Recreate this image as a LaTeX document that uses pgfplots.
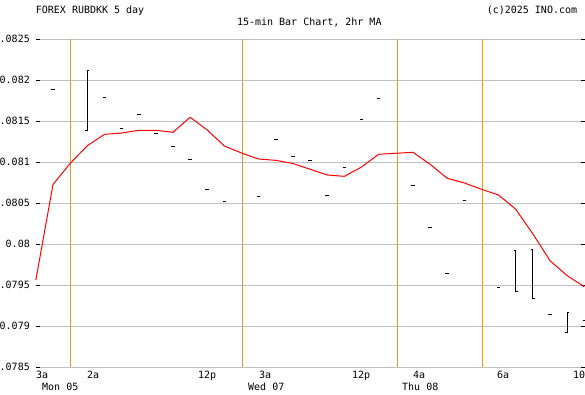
\documentclass[border=0pt]{standalone}
\usepackage{pgfplots}
\usepackage{pgfplotstable}
\pgfplotsset{compat=1.18}
\usepackage{fontspec}
\setmainfont{DejaVu Sans Mono}
\setmonofont{DejaVu Sans Mono}
\definecolor{sepA}{RGB}{218,160,32}
\definecolor{sepB}{RGB}{240,160,0}
\definecolor{gridc}{RGB}{192,192,192}
\pgfdeclareplotmark{openl}{\pgfpathmoveto{\pgfpoint{-1.8pt}{0pt}}\pgfpathlineto{\pgfpoint{0.5pt}{0pt}}\pgfusepathqstroke}
\pgfdeclareplotmark{closer}{\pgfpathmoveto{\pgfpoint{-0.5pt}{0pt}}\pgfpathlineto{\pgfpoint{1.8pt}{0pt}}\pgfusepathqstroke}

\pgfplotstableread{
k o h l c
1 0.081890 0.081890 0.081890 0.081890
3 0.081382 0.082122 0.081382 0.082122
4 0.081793 0.081793 0.081793 0.081793
5 0.081410 0.081410 0.081410 0.081410
6 0.081589 0.081589 0.081589 0.081589
7 0.081354 0.081354 0.081354 0.081354
8 0.081187 0.081187 0.081187 0.081187
9 0.081037 0.081037 0.081037 0.081037
10 0.080671 0.080671 0.080671 0.080671
11 0.080516 0.080516 0.080516 0.080516
13 0.080580 0.080580 0.080580 0.080580
14 0.081280 0.081280 0.081280 0.081280
15 0.081068 0.081068 0.081068 0.081068
16 0.081024 0.081024 0.081024 0.081024
17 0.080601 0.080601 0.080601 0.080601
18 0.080939 0.080939 0.080939 0.080939
19 0.081528 0.081528 0.081528 0.081528
20 0.081780 0.081780 0.081780 0.081780
22 0.080723 0.080723 0.080723 0.080723
23 0.080199 0.080199 0.080199 0.080199
24 0.079646 0.079646 0.079646 0.079646
25 0.080540 0.080540 0.080540 0.080540
27 0.079471 0.079471 0.079471 0.079471
28 0.079922 0.079922 0.079430 0.079430
29 0.079939 0.079939 0.079341 0.079341
30 0.079150 0.079150 0.079150 0.079150
31 0.078927 0.079166 0.078927 0.079166
32 0.079065 0.079065 0.079065 0.079065
}\bars

\pgfplotstableread{
k ma
0 0.079565
1 0.080729
2 0.080987
3 0.081202
4 0.081341
5 0.081357
6 0.081390
7 0.081390
8 0.081366
9 0.081549
10 0.081394
11 0.081199
12 0.081113
13 0.081040
14 0.081024
15 0.080985
16 0.080915
17 0.080845
18 0.080829
19 0.080943
20 0.081098
21 0.081110
22 0.081122
23 0.080976
24 0.080805
25 0.080748
26 0.080671
27 0.080601
28 0.080427
29 0.080126
30 0.079800
31 0.079617
32 0.079483
}\madata

\begin{document}
\begin{tikzpicture}[x=1pt,y=1pt,font=\fontsize{10}{12}\selectfont]
\begin{axis}[
  at={(40pt,-367.3pt)}, anchor=south west,
  scale only axis, width=540.7pt, height=328pt,
  xmin=0.2415, xmax=31.788, ymin=0.0785, ymax=0.0825,
  xtick=\empty,
  scaled y ticks=false,
  ytick={0.0785,0.079,0.0795,0.08,0.0805,0.081,0.0815,0.082,0.0825},
  yticklabels={0.0785,0.079,0.0795,0.08,0.0805,0.081,0.0815,0.082,0.0825},
  ymajorgrids, major grid style={gridc, line width=1pt},
  tick align=outside, major tick length=4pt,
  every tick/.style={black, line width=1pt},
  axis line style={draw=none},
  clip=false,
  yticklabel style={anchor=east, inner sep=0pt, xshift=-6pt, font=\fontsize{10}{12}\selectfont},
  /pgf/number format/assume math mode=true,
]
\addplot[sepA, line width=1pt, unbounded coords=jump, forget plot] coordinates {
  (2.05,0.0785) (2.05,0.0825) (3,nan)
  (12.08,0.0785) (12.08,0.0825) (13,nan)
  (21.07,0.0785) (21.07,0.0825)};
\addplot[sepB, line width=1pt, forget plot] coordinates {(26.03,0.0785) (26.03,0.0825)};
\addplot[red, line width=1pt] table[x=k,y=ma]{\madata};
\addplot[draw=none, mark=none, error bars/.cd, y dir=plus, y explicit, error mark=none,
  error bar style={black, line width=1pt}]
  table[x=k, y=l, y error expr=\thisrow{h}-\thisrow{l}]{\bars};
\addplot[black, line width=1pt, only marks, mark=openl] table[x=k,y=o]{\bars};
\addplot[black, line width=1pt, only marks, mark=closer] table[x=k,y=c]{\bars};
\end{axis}
% titles
\node[anchor=base west, inner sep=0pt] at (35.7,-13.3) {FOREX RUBDKK 5 day};
\node[anchor=base, inner sep=0pt] at (309.3,-25) {15-min Bar Chart, 2hr MA};
\node[anchor=base east, inner sep=0pt] at (577.3,-13.3) {(c)2025 INO.com};
% hour labels
\node[anchor=base west, inner sep=0pt] at (36,-378.3) {3a};
\node[anchor=base west, inner sep=0pt] at (87,-378.3) {2a};
\node[anchor=base west, inner sep=0pt] at (198,-378.3) {12p};
\node[anchor=base west, inner sep=0pt] at (259,-378.3) {3a};
\node[anchor=base west, inner sep=0pt] at (352,-378.3) {12p};
\node[anchor=base west, inner sep=0pt] at (413,-378.3) {4a};
\node[anchor=base west, inner sep=0pt] at (497,-378.3) {6a};
\node[anchor=base west, inner sep=0pt] at (573,-378.3) {10a};
% day labels
\node[anchor=base west, inner sep=0pt] at (42,-390.7) {Mon 05};
\node[anchor=base west, inner sep=0pt] at (248,-390.7) {Wed 07};
\node[anchor=base west, inner sep=0pt] at (402,-390.7) {Thu 08};
\pgfresetboundingbox
\path[use as bounding box] (0,0) rectangle (585,-394);
\end{tikzpicture}
\end{document}
